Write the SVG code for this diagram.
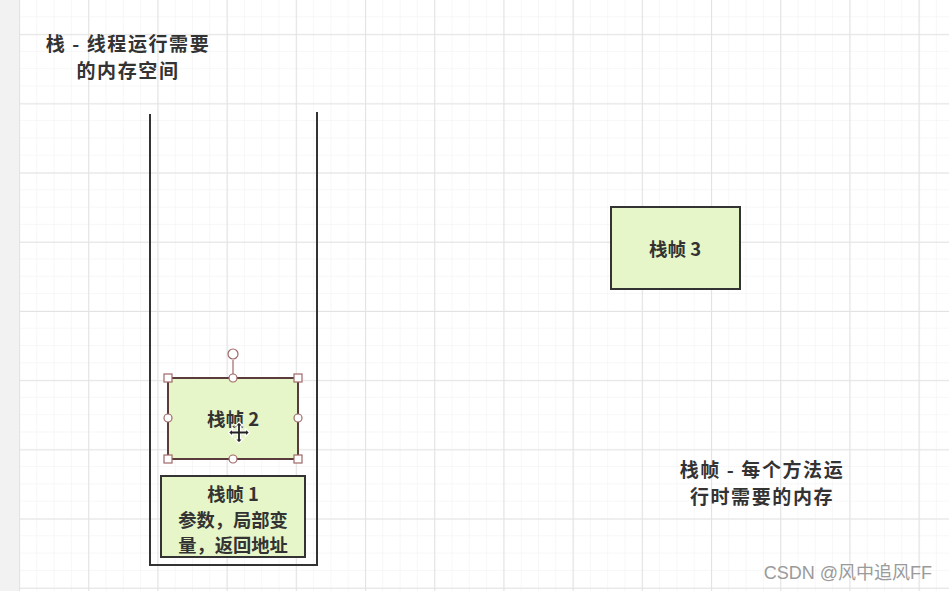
<svg xmlns="http://www.w3.org/2000/svg" width="949" height="591" viewBox="0 0 949 591">
  <defs>
    <pattern id="minor" x="19" y="-1" width="17.3" height="17.3" patternUnits="userSpaceOnUse">
      <path d="M0 0 H17.3 M0 0 V17.3" fill="none" stroke="#efefef" stroke-width="1"/>
    </pattern>
    <pattern id="major" x="19" y="-35" width="69.2" height="69.2" patternUnits="userSpaceOnUse">
      <path d="M0 0.5 H69.2 M0.5 0 V69.2" fill="none" stroke="#e3e3e3" stroke-width="1.2"/>
    </pattern>
  </defs>
  <style>
    .frame { fill: #e6f6c8; stroke: #333; stroke-width: 2; }
    .lbl { font-family: "Noto Sans CJK SC", "Liberation Sans", sans-serif; font-weight: bold; fill: #333; text-anchor: middle; }
    .big { font-size: 19px; letter-spacing: 1.6px; }
    .handle { fill: #fff; stroke: #a06868; stroke-width: 1.2; }
  </style>
  <rect width="949" height="591" fill="#fff"/>
  <rect x="19" width="930" height="591" fill="url(#minor)"/>
  <rect x="19" width="930" height="591" fill="url(#major)"/>
  <rect width="19" height="591" fill="#f2f2f2"/>

  <g id="title-stack">
    <text class="lbl big" x="128" y="51">栈 - 线程运行需要</text>
    <text class="lbl big" x="128" y="78">的内存空间</text>
  </g>

  <g id="stack">
    <path d="M150 114 V565 H317 V112" fill="none" stroke="#333" stroke-width="2"/>
  </g>

  <g id="frame1">
    <rect class="frame" x="161" y="476" width="144" height="81"/>
    <text class="lbl" x="233" y="501" font-size="18.3">栈帧 1</text>
    <text class="lbl" x="233" y="527" font-size="18.3">参数，局部变</text>
    <text class="lbl" x="233" y="552" font-size="18.3">量，返回地址</text>
  </g>

  <g id="frame2">
    <rect class="frame" x="168" y="378" width="130" height="81" style="stroke:#5a3c3c"/>
    <text class="lbl" x="233" y="426" font-size="18.5">栈帧 2</text>
  </g>

  <g id="selection">
    <line x1="233" y1="360" x2="233" y2="378" stroke="#a06868" stroke-width="1.2"/>
    <circle class="handle" cx="233" cy="354" r="5"/>
    <rect class="handle" x="164" y="374" width="8" height="8"/>
    <rect class="handle" x="294" y="374" width="8" height="8"/>
    <rect class="handle" x="164" y="455" width="8" height="8"/>
    <rect class="handle" x="294" y="455" width="8" height="8"/>
    <circle class="handle" cx="233" cy="378" r="4"/>
    <circle class="handle" cx="233" cy="459" r="4"/>
    <circle class="handle" cx="168" cy="418" r="4"/>
    <circle class="handle" cx="298" cy="418" r="4"/>
    <path d="M239 422 l4 4 h-2.5 v5 h5 v-2.5 l4 4 l-4 4 v-2.5 h-5 v5 h2.5 l-4 4 l-4 -4 h2.5 v-5 h-5 v2.5 l-4 -4 l4 -4 v2.5 h5 v-5 h-2.5 z" fill="#222" stroke="#fff" stroke-width="1.2"/>
  </g>

  <g id="frame3">
    <rect class="frame" x="611" y="207" width="129" height="82"/>
    <text class="lbl" x="675" y="256" font-size="18.5">栈帧 3</text>
  </g>

  <g id="title-frame">
    <text class="lbl big" x="762" y="477">栈帧 - 每个方法运</text>
    <text class="lbl big" x="762" y="504">行时需要的内存</text>
  </g>

  <g id="watermark">
    <text x="932" y="579" font-family="'Liberation Sans', 'Noto Sans CJK SC', sans-serif" font-size="18" fill="#9a9a9a" text-anchor="end">CSDN @风中追风FF</text>
  </g>
</svg>
